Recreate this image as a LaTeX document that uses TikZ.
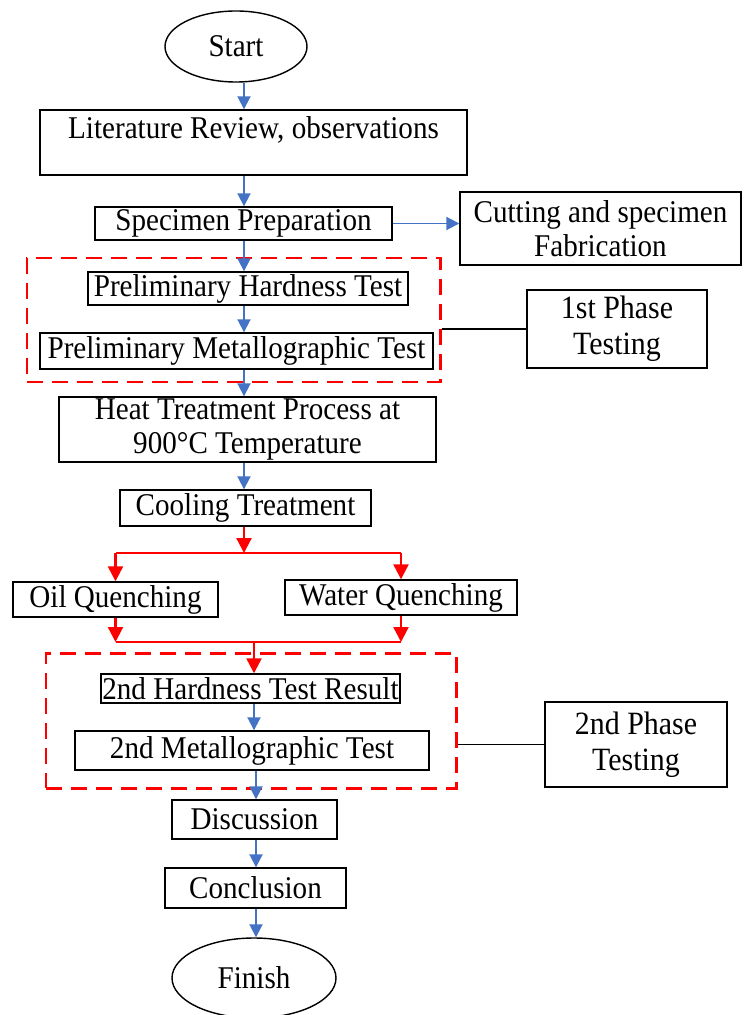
\documentclass[tikz,border=0pt]{standalone}
\usepackage{fontspec}
\setmainfont{Liberation Serif}[FakeStretch=0.92]
\definecolor{flowblue}{RGB}{68, 114, 196}
\definecolor{flowred}{RGB}{255, 0, 0}
\usetikzlibrary{arrows.meta, positioning, shapes.geometric}
\tikzset{
	stepbox/.style={rectangle, draw=black, line width=0.8pt, align=center, inner sep=0pt, font=\fontsize{18}{19}\selectfont},
	term/.style={ellipse, draw=black, line width=0.8pt, inner sep=0pt, font=\fontsize{18}{19}\selectfont},
	phasebox/.style={stepbox, line width=1.1pt, font=\fontsize{18.5}{20.5}\selectfont},
	groupbox/.style={rectangle, draw=flowred, dash pattern=on 0.32cm off 0.18cm, line width=1.7pt, inner sep=0pt},
	arrow/.style={-{Triangle[length=2.6mm, width=2.6mm]}, line width=1.1pt, draw=flowblue},
	redarrow/.style={-{Triangle[length=3mm, width=3mm]}, line width=1.3pt, draw=flowred},
	redline/.style={line width=1.3pt, draw=flowred},
	link/.style={line width=1.1pt, draw=black},
}
\begin{document}
\begin{tikzpicture}
	\fill[white] (0,0) rectangle (14.86,-20.3);
	\useasboundingbox (0,0) rectangle (14.86,-20.3);
	\coordinate (axisone) at (4.88,0);
	\coordinate (axistwo) at (5.12,0);
	% first part
	\node[term, minimum width=2.84cm, minimum height=1.42cm] (start) at (4.72,-0.93) {Start};
	\node[stepbox, minimum width=8.54cm, minimum height=1.3cm, text depth=0.6cm] (litreview) at (5.07,-2.85) {Literature Review, observations};
	\node[stepbox, minimum width=5.94cm, minimum height=0.66cm] (specprep) at (4.87,-4.47) {Specimen Preparation};
	\node[stepbox, minimum width=5.62cm, minimum height=1.46cm] (cutting) at (12.01,-4.57) {Cutting and specimen\\Fabrication};
	\node[groupbox, minimum width=8.26cm, minimum height=2.48cm] (groupone) at (4.67,-6.4) {};
	\node[stepbox, minimum width=6.4cm, minimum height=0.66cm] (prehard) at (4.96,-5.77) {Preliminary Hardness Test};
	\node[stepbox, minimum width=7.86cm, minimum height=0.72cm] (premetal) at (4.73,-7.02) {Preliminary Metallographic Test};
	\node[phasebox, minimum width=3.6cm, minimum height=1.56cm] (phaseone) at (12.34,-6.58) {1st Phase\\Testing};
	\node[stepbox, minimum width=7.54cm, minimum height=1.3cm] (heattreat) at (4.95,-8.59) {Heat Treatment Process at\\900°C Temperature};
	\node[stepbox, minimum width=5.02cm, minimum height=0.72cm] (cooling) at (4.91,-10.16) {Cooling Treatment};
	% quenching branches
	\coordinate (split) at (4.88,-11.06);
	\node[stepbox, minimum width=4.1cm, minimum height=0.7cm] (oilq) at (2.31,-11.99) {Oil Quenching};
	\node[stepbox, minimum width=4.64cm, minimum height=0.7cm] (waterq) at (8.02,-11.95) {Water Quenching};
	\coordinate (merge) at (5.08,-12.84);
	% second part
	\node[groupbox, minimum width=8.2cm, minimum height=2.7cm] (grouptwo) at (5.02,-14.41) {};
	\node[stepbox, minimum width=5.98cm, minimum height=0.58cm] (hardtwo) at (5.01,-13.77) {2nd Hardness Test Result};
	\node[stepbox, minimum width=7.08cm, minimum height=0.78cm] (metaltwo) at (5.04,-15.01) {2nd Metallographic Test};
	\node[phasebox, minimum width=3.64cm, minimum height=1.7cm] (phasetwo) at (12.72,-14.89) {2nd Phase\\Testing};
	\node[stepbox, minimum width=3.3cm, minimum height=0.78cm] (discuss) at (5.09,-16.39) {Discussion};
	\node[stepbox, minimum width=3.62cm, minimum height=0.8cm] (conclude) at (5.11,-17.76) {Conclusion};
	\node[term, minimum width=3.28cm, minimum height=1.6cm] (finish) at (5.08,-19.56) {Finish};
	% connectors
	\draw[arrow] (start.south -| axisone) -- (litreview.north -| axisone);
	\draw[arrow] (litreview.south -| axisone) -- (specprep.north -| axisone);
	\draw[arrow] (specprep.east) -- (cutting.west |- specprep.east);
	\draw[arrow] (specprep.south -| axisone) -- (prehard.north -| axisone);
	\draw[arrow] (prehard.south -| axisone) -- (premetal.north -| axisone);
	\draw[link] (groupone.east |- phaseone.west) -- (phaseone.west);
	\draw[arrow] (premetal.south -| axisone) -- (heattreat.north -| axisone);
	\draw[arrow] (heattreat.south -| axisone) -- (cooling.north -| axisone);
	\draw[redarrow] (cooling.south -| axisone) -- (split);
	\draw[redline] (split -| oilq) -- (split -| waterq);
	\draw[redarrow] (split -| oilq) -- (oilq.north);
	\draw[redarrow] (split -| waterq) -- (waterq.north);
	\draw[redarrow] (oilq.south) -- (merge -| oilq);
	\draw[redarrow] (waterq.south) -- (merge -| waterq);
	\draw[redline] (merge -| oilq) -- (merge -| waterq);
	\draw[redarrow] (merge) -- (hardtwo.north -| merge);
	\draw[arrow] (hardtwo.south -| merge) -- (metaltwo.north -| merge);
	\draw[link] (grouptwo.east |- phasetwo.west) -- (phasetwo.west);
	\draw[arrow] (metaltwo.south -| axistwo) -- (discuss.north -| axistwo);
	\draw[arrow] (discuss.south -| axistwo) -- (conclude.north -| axistwo);
	\draw[arrow] (conclude.south -| axistwo) -- (finish.north -| axistwo);
\end{tikzpicture}
\end{document}
